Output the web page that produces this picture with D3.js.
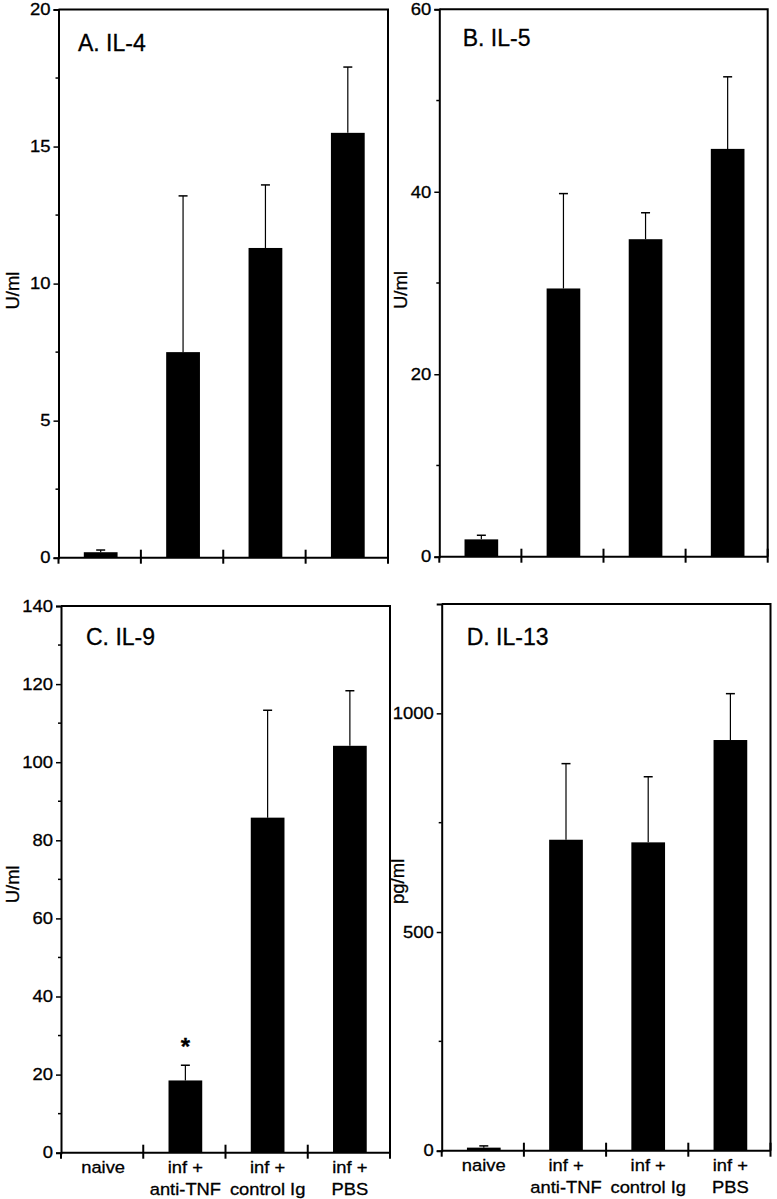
<!DOCTYPE html>
<html>
<head>
<meta charset="utf-8">
<script src="https://cdn.jsdelivr.net/npm/d3@7/dist/d3.min.js"></script>
<style>
  html, body { margin: 0; padding: 0; background: #fff; }
  svg { display: block; }
  text { font-family: "Liberation Sans", Arial, Helvetica, sans-serif; fill: #000; stroke: #000; stroke-width: 0.3px; }
</style>
</head>
<body>
<svg id="chart" width="777" height="1199"></svg>
<script>
// ---------- DATA ----------
const categories = ["naive", "inf + anti-TNF", "inf + control Ig", "inf + PBS"];
const categoryLines = [["naive"], ["inf +", "anti-TNF"], ["inf +", "control Ig"], ["inf +", "PBS"]];

const il4Means  = [0.2, 7.5, 11.3, 15.5];
const il4Errors = [0.08, 5.7, 2.3, 2.4];
const il4Ticks  = [0, 5, 10, 15, 20];
const il4Minor  = [2.5, 7.5, 12.5, 17.5];

const il5Means  = [1.9, 29.4, 34.8, 44.7];
const il5Errors = [0.45, 10.4, 2.9, 7.9];
const il5Ticks  = [0, 20, 40, 60];
const il5Minor  = [10, 30, 50];

const il9Means  = [0, 18.5, 85.8, 104.2];
const il9Errors = [0, 3.9, 27.5, 14.1];
const il9Ticks  = [0, 20, 40, 60, 80, 100, 120, 140];
const il9Minor  = [10, 30, 50, 70, 90, 110, 130];
const il9Marks  = ["", "*", "", ""];

const il13Means  = [7, 711, 705, 939];
const il13Errors = [4, 174, 150, 106];
const il13Ticks  = [0, 500, 1000];
const il13Minor  = [250, 750];

// ---------- LAYOUT ----------
const panels = [
  { title: "A. IL-4", unit: "U/ml", means: il4Means, errors: il4Errors, ticks: il4Ticks, minor: il4Minor, max: 20,
    left: 58.5, right: 388, top: 9.5, bottom: 557.7, titleDx: 19.5, titleDy: 41, labelDx: -46, labelDy: 7, xLabels: false },
  { title: "B. IL-5", unit: "U/ml", means: il5Means, errors: il5Errors, ticks: il5Ticks, minor: il5Minor, max: 60,
    left: 439.3, right: 767.7, top: 9.3, bottom: 556.7, titleDx: 23.4, titleDy: 36.4, labelDx: -39, labelDy: 7, xLabels: false },
  { title: "C. IL-9", unit: "U/ml", means: il9Means, errors: il9Errors, ticks: il9Ticks, minor: il9Minor, max: 140,
    left: 61, right: 390, top: 606, bottom: 1152.7, titleDx: 25, titleDy: 39, labelDx: -48, labelDy: 5, xLabels: true, marks: il9Marks },
  { title: "D. IL-13", unit: "pg/ml", means: il13Means, errors: il13Errors, ticks: il13Ticks, minor: il13Minor, max: 1250,
    left: 441.7, right: 770.5, top: 604, bottom: 1150.7, titleDx: 25, titleDy: 41, labelDx: -44, labelDy: 4, xLabels: true }
];

const svg = d3.select("#chart");

panels.forEach(p => {
  const g = svg.append("g");
  const x = d3.scaleBand().domain(categories).range([p.left, p.right]).padding(0);
  const y = d3.scaleLinear().domain([0, p.max]).range([p.bottom, p.top]);
  const barW = x.bandwidth() * 0.41;
  const cx = c => x(c) + x.bandwidth() / 2 + 1;
  const idx = c => categories.indexOf(c);

  // bars
  g.selectAll("rect.bar").data(categories).enter().append("rect")
    .attr("x", c => cx(c) - barW / 2)
    .attr("width", barW)
    .attr("y", c => y(p.means[idx(c)]))
    .attr("height", c => y(0) - y(p.means[idx(c)]))
    .attr("fill", "#000");

  // error bars
  const eb = g.selectAll("g.err").data(categories.filter((c, i) => p.errors[i] > 0)).enter().append("g");
  eb.append("line")
    .attr("x1", c => cx(c)).attr("x2", c => cx(c))
    .attr("y1", c => y(p.means[idx(c)]))
    .attr("y2", c => y(p.means[idx(c)] + p.errors[idx(c)]))
    .attr("stroke", "#000").attr("stroke-width", 1.2);
  eb.append("line")
    .attr("x1", c => cx(c) - 4.5).attr("x2", c => cx(c) + 4.5)
    .attr("y1", c => y(p.means[idx(c)] + p.errors[idx(c)]))
    .attr("y2", c => y(p.means[idx(c)] + p.errors[idx(c)]))
    .attr("stroke", "#000").attr("stroke-width", 1.5);

  // significance marks
  if (p.marks) {
    g.selectAll("text.mark").data(categories.filter((c, i) => p.marks[i])).enter().append("text")
      .attr("x", c => cx(c))
      .attr("y", c => y(p.means[idx(c)] + p.errors[idx(c)]) - 10)
      .attr("text-anchor", "middle")
      .attr("font-size", 24)
      .attr("font-weight", "bold")
      .text(c => p.marks[idx(c)]);
  }

  // frame (top and right)
  g.append("path")
    .attr("d", `M${p.left},${y(p.max)}H${p.right}V${y(0)}`)
    .attr("fill", "none").attr("stroke", "#000").attr("stroke-width", 2);

  // y axis
  const yAxis = d3.axisLeft(y).tickValues(p.ticks).tickSize(5).tickPadding(3).tickFormat(d3.format("d"));
  const ya = g.append("g").attr("transform", `translate(${p.left},0)`).call(yAxis);
  ya.attr("font-family", null);
  ya.select(".domain").attr("stroke-width", 2);
  ya.selectAll(".tick line").attr("stroke-width", 1.5);
  ya.selectAll(".tick text").attr("font-size", 16.5)
    .attr("transform", "scale(1.12,1)").attr("x", -8 / 1.12);
  // minor ticks
  g.selectAll("line.minor").data(p.minor).enter().append("line")
    .attr("x1", p.left - 3).attr("x2", p.left)
    .attr("y1", d => y(d)).attr("y2", d => y(d))
    .attr("stroke", "#000").attr("stroke-width", 1.5);

  // x axis line
  g.append("line").attr("x1", p.left).attr("x2", p.right).attr("y1", y(0)).attr("y2", y(0))
    .attr("stroke", "#000").attr("stroke-width", 2);
  // category boundary ticks
  g.selectAll("line.xt").data(categories).enter().append("line")
    .attr("x1", c => x(c) + x.bandwidth()).attr("x2", c => x(c) + x.bandwidth())
    .attr("y1", y(0) - 8).attr("y2", y(0) + 6)
    .attr("stroke", "#000").attr("stroke-width", 2);
  g.append("line").attr("x1", p.left).attr("x2", p.left).attr("y1", y(0)).attr("y2", y(0) + 6)
    .attr("stroke", "#000").attr("stroke-width", 2);

  // x labels
  if (p.xLabels) {
    categories.forEach((c, i) => {
      const t = g.append("text").attr("text-anchor", "middle").attr("font-size", 17)
        .attr("transform", `translate(${cx(c)},${y(0)}) scale(1.08,1)`);
      categoryLines[i].forEach((line, k) => {
        t.append("tspan").attr("x", 0).attr("y", 20 + k * 22).text(line);
      });
    });
  }

  // title
  g.append("text").attr("x", p.left + p.titleDx).attr("y", p.top + p.titleDy)
    .attr("font-size", 23).text(p.title);

  // y label
  g.append("text")
    .attr("transform", `translate(${p.left + p.labelDx},${(p.top + p.bottom) / 2 + p.labelDy}) rotate(-90)`)
    .attr("text-anchor", "middle").attr("dy", "0.35em")
    .attr("font-size", 18.5).text(p.unit);
});
</script>
</body>
</html>
